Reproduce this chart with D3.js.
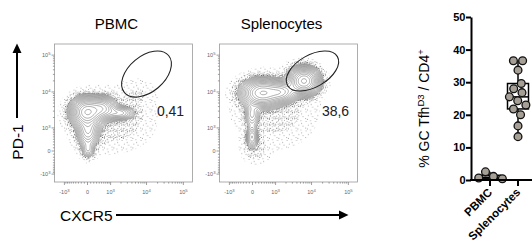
<!DOCTYPE html>
<html>
<head>
<meta charset="utf-8">
<title>GC Tfh - flow + scatter</title>
<script src="https://cdn.jsdelivr.net/npm/d3@7"></script>
<style>
  body { margin: 0; background: #fff; }
  svg { display: block; font-family: "Liberation Sans", Arial, sans-serif; }
  .box { fill: none; stroke: #999; stroke-width: 0.8; }
  .contour { fill: none; stroke: #707070; stroke-width: 0.55; }
  .gate { fill: none; stroke: #222; stroke-width: 1.1; }
  .ftick { stroke: #777; stroke-width: 0.7; }
  .flabel { fill: #666; font-size: 5.5px; }
</style>
</head>
<body>
<svg width="532" height="244"></svg>

<script type="text/javascript">
// ---- data ----
var groups = ["PBMC", "Splenocytes"];
var pbmcValues = [2.5, 1.1, 0.6, 0.4];
var splenoValues = [36.6, 36.6, 33.7, 29.6, 28.0, 26.8, 25.5, 24.3, 23.0, 21.8, 20.0, 16.6, 13.3];
var yTicks = [0, 10, 20, 30, 40, 50];

var flowTicks = [-1000, 0, 1000, 10000, 100000];
var flowTickBase = ["-10", "0", "10", "10", "10"];
var flowTickExp = ["3", "", "3", "4", "5"];
var flowMinor = [-900, -800, -700, -600, -500, -400, -300, -200, -100,
  100, 200, 300, 400, 500, 600, 700, 800, 900,
  2000, 3000, 4000, 5000, 6000, 7000, 8000, 9000,
  20000, 30000, 40000, 50000, 60000, 70000, 80000, 90000];

var flowTitles = ["PBMC", "Splenocytes"];
var gatePercents = ["0,41", "38,6"];

// populations: centre in fluorescence units (CXCR5, PD-1), spread in transformed units
var pbmcPops = [
  {cxcr5: -15,  pd1: 2840,  sx: 0.52, sy: 0.48, w: 1},
  {cxcr5: 565,  pd1: 3660,  sx: 0.44, sy: 0.38, w: 0.5},
  {cxcr5: 1870, pd1: 2660,  sx: 0.5,  sy: 0.24, w: 0.25},
  {cxcr5: 15,   pd1: 745,   sx: 0.38, sy: 0.5,  w: 0.35},
  {cxcr5: 15,   pd1: 31,    sx: 0.25, sy: 0.31, w: 0.15},
  {cxcr5: 960,  pd1: 1700,  sx: 1.56, sy: 1.13, w: 0.03},
  {cxcr5: 6650, pd1: 10000, sx: 0.7,  sy: 0.55, w: 0.012}
];
var splenoPops = [
  {cxcr5: 313,  pd1: 9400,  sx: 0.67, sy: 0.46, w: 1},
  {cxcr5: 1530, pd1: 10000, sx: 0.5,  sy: 0.36, w: 0.6},
  {cxcr5: 6260, pd1: 19900, sx: 0.5,  sy: 0.45, w: 1.3},
  {cxcr5: -15,  pd1: 2350,  sx: 0.28, sy: 0.44, w: 0.2},
  {cxcr5: -15,  pd1: 495,   sx: 0.22, sy: 0.38, w: 0.3},
  {cxcr5: 960,  pd1: 3220,  sx: 1.56, sy: 1.38, w: 0.03},
  {cxcr5: 80,   pd1: 31,    sx: 0.5,  sy: 0.5,  w: 0.03}
];
// gates: centre in fluorescence units, half axes in transformed units
var gates = [
  {cxcr5: 10000, pd1: 30700, a: 1.8, b: 1.12, angle: -40},
  {cxcr5: 10600, pd1: 37100, a: 1.8, b: 1.0,  angle: -30}
];

// ---- helpers ----
var svg = d3.select('svg');
var flowSize = 138;
var tr = function(v) { return Math.asinh(v / 500); };
var fx = d3.scaleLinear().domain([-33 / 16, 105 / 16]).range([0, flowSize]);
var fy = d3.scaleLinear().domain([-31 / 16, 107 / 16]).range([flowSize, 0]);

// stipple patterns for the outlying events
var defs = svg.append('defs');
var sparseDots = [[1, 1.5], [5.6, 0.8], [3.3, 4.9], [7.6, 6.3], [0.7, 7.9], [6.2, 3.6], [2.4, 8.8]];
var denseDots = [[0.6, 0.7], [3.1, 1.9], [1.5, 3.8], [4.4, 4.6], [4.9, 0.4], [0.2, 5.6], [2.8, 5.9]];
var packedDots = [[0.5, 0.6], [2.3, 1.4], [1.2, 2.9], [3.3, 3.2], [3.6, 0.3], [0.2, 4.1], [2.2, 4.4]];
function addPattern(id, size, dots, r) {
  var p = defs.append('pattern')
    .attr('id', id)
    .attr('patternUnits', 'userSpaceOnUse')
    .attr('width', size)
    .attr('height', size);
  p.selectAll('circle')
    .data(dots)
    .enter()
    .append('circle')
    .attr('cx', function(d) { return d[0]; })
    .attr('cy', function(d) { return d[1]; })
    .attr('r', r)
    .attr('fill', '#2a2a2a');
}
addPattern('sparse', 9.5, sparseDots, 0.4);
addPattern('dense', 6.2, denseDots, 0.42);
addPattern('packed', 4.6, packedDots, 0.45);

function drawFlow(left, top, pops, gate, pct, title) {
  var g = svg.append('g').attr('transform', 'translate(' + left + ',' + top + ')');

  var pts = pops.map(function(p) {
    return {cx: tr(p.cxcr5), cy: tr(p.pd1), sx: p.sx, sy: p.sy, w: p.w};
  });
  var grid = new Float64Array(flowSize * flowSize);
  for (var j = 0; j < flowSize; j++) {
    var ty = fy.invert(j + 0.5);
    for (var i = 0; i < flowSize; i++) {
      var tx = fx.invert(i + 0.5), s = 0;
      pts.forEach(function(p) {
        var dx = (tx - p.cx) / p.sx, dy = (ty - p.cy) / p.sy;
        s += p.w * Math.exp(-0.5 * (dx * dx + dy * dy));
      });
      grid[j * flowSize + i] = s;
    }
  }
  var max = d3.max(grid);
  var path = d3.geoPath();
  var low = max * 0.06;

  // outlying events as stipple, white inside the outer contour
  var fills = d3.contours().size([flowSize, flowSize])
    .thresholds([max * 0.0045, max * 0.014, max * 0.032, low])(grid);
  g.selectAll('path.fill')
    .data(fills)
    .enter()
    .append('path')
    .attr('class', 'fill')
    .attr('d', path)
    .attr('fill', function(d, i) {
      return ['url(#sparse)', 'url(#dense)', 'url(#packed)', '#fff'][i];
    });

  // contour lines, log spaced
  var levels = d3.range(15).map(function(k) {
    return low * Math.pow(0.95 / 0.06, k / 14);
  });
  var lines = d3.contours().size([flowSize, flowSize]).thresholds(levels)(grid);
  g.selectAll('path.contour')
    .data(lines)
    .enter()
    .append('path')
    .attr('class', 'contour')
    .attr('d', path);

  // frame
  g.append('rect').attr('class', 'box')
    .attr('width', flowSize).attr('height', flowSize);

  // ticks
  var tx0 = function(v) { return fx(tr(v)); };
  var ty0 = function(v) { return fy(tr(v)); };
  g.selectAll('line.xminor').data(flowMinor).enter().append('line')
    .attr('class', 'ftick')
    .attr('x1', tx0).attr('x2', tx0)
    .attr('y1', flowSize).attr('y2', flowSize + 1.6);
  g.selectAll('line.yminor').data(flowMinor).enter().append('line')
    .attr('class', 'ftick')
    .attr('y1', ty0).attr('y2', ty0)
    .attr('x1', 0).attr('x2', -1.6);
  g.selectAll('line.xmajor').data(flowTicks).enter().append('line')
    .attr('class', 'ftick')
    .attr('stroke-width', function(d) { return d === 0 ? 2.2 : 0.8; })
    .attr('x1', tx0).attr('x2', tx0)
    .attr('y1', flowSize).attr('y2', flowSize + 3);
  g.selectAll('line.ymajor').data(flowTicks).enter().append('line')
    .attr('class', 'ftick')
    .attr('stroke-width', function(d) { return d === 0 ? 2.2 : 0.8; })
    .attr('y1', ty0).attr('y2', ty0)
    .attr('x1', 0).attr('x2', -3);

  var xl = g.selectAll('text.xl').data(flowTicks).enter().append('text')
    .attr('class', 'flabel')
    .attr('text-anchor', 'middle')
    .attr('x', tx0)
    .attr('y', flowSize + 12);
  var yl = g.selectAll('text.yl').data(flowTicks).enter().append('text')
    .attr('class', 'flabel')
    .attr('text-anchor', 'end')
    .attr('x', -4)
    .attr('y', function(d) { return ty0(d) + 2; });
  [xl, yl].forEach(function(sel) {
    sel.append('tspan').text(function(d, i) { return flowTickBase[i]; });
    sel.append('tspan')
      .attr('dy', -2.2)
      .attr('font-size', '4.2px')
      .text(function(d, i) { return flowTickExp[i]; });
  });

  // gate
  var gcx = fx(tr(gate.cxcr5)), gcy = fy(tr(gate.pd1));
  g.append('ellipse').attr('class', 'gate')
    .attr('cx', gcx).attr('cy', gcy)
    .attr('rx', fx(gate.a) - fx(0))
    .attr('ry', fx(gate.b) - fx(0))
    .attr('transform', 'rotate(' + gate.angle + ',' + gcx + ',' + gcy + ')');

  g.append('text')
    .attr('x', 116).attr('y', 72)
    .attr('text-anchor', 'middle')
    .attr('font-size', '14px')
    .attr('fill', '#222')
    .text(pct);

  g.append('text')
    .attr('x', 62).attr('y', -15)
    .attr('text-anchor', 'middle')
    .attr('font-size', '15px')
    .text(title);
}

drawFlow(54.5, 44, pbmcPops, gates[0], gatePercents[0], flowTitles[0]);
drawFlow(219.5, 44, splenoPops, gates[1], gatePercents[1], flowTitles[1]);

// axis arrows
svg.append('line').attr('x1', 17).attr('x2', 17).attr('y1', 118).attr('y2', 51)
  .attr('stroke', '#000').attr('stroke-width', 2);
svg.append('path').attr('d', 'M12.5,53 L17,43.5 L21.5,53 Z').attr('fill', '#000');
svg.append('text')
  .attr('transform', 'translate(23,142) rotate(-90)')
  .attr('text-anchor', 'middle')
  .attr('font-size', '15.5px')
  .text('PD-1');

svg.append('line').attr('x1', 116).attr('x2', 341).attr('y1', 215).attr('y2', 215)
  .attr('stroke', '#000').attr('stroke-width', 2);
svg.append('path').attr('d', 'M339,210.5 L348.5,215 L339,219.5 Z').attr('fill', '#000');
svg.append('text')
  .attr('x', 60).attr('y', 221)
  .attr('font-size', '15.5px')
  .text('CXCR5');

// ---- scatter / box plot ----
var yBar = d3.scaleLinear().domain([0, 50]).range([180, 17]);
var xBar = d3.scalePoint().domain(groups).range([490, 518]);
var series = [pbmcValues, splenoValues];

var bar = svg.append('g');

series.forEach(function(vals, gi) {
  var sorted = vals.slice().sort(d3.ascending);
  var cx = xBar(groups[gi]);
  var q1 = d3.quantile(sorted, 0.25), med = d3.quantile(sorted, 0.5), q3 = d3.quantile(sorted, 0.75);
  bar.append('line')
    .attr('x1', cx).attr('x2', cx)
    .attr('y1', yBar(d3.min(sorted))).attr('y2', yBar(d3.max(sorted)))
    .attr('stroke', '#000').attr('stroke-width', 1.5);
  bar.append('rect')
    .attr('x', cx - 10.5).attr('width', 21)
    .attr('y', yBar(q3)).attr('height', yBar(q1) - yBar(q3))
    .attr('fill', '#fff').attr('stroke', '#000').attr('stroke-width', 1.5);
  bar.append('line')
    .attr('x1', cx - 10.5).attr('x2', cx + 10.5)
    .attr('y1', yBar(med)).attr('y2', yBar(med))
    .attr('stroke', '#000').attr('stroke-width', 1.5);

  var nodes = vals.map(function(v) {
    return {v: v, x: cx, y: yBar(v), fy: yBar(v)};
  });
  var sim = d3.forceSimulation(nodes)
    .force('x', d3.forceX(cx).strength(0.1))
    .force('collide', d3.forceCollide(4.6))
    .stop();
  for (var k = 0; k < 200; k++) sim.tick();

  bar.selectAll('circle.g' + gi)
    .data(nodes)
    .enter()
    .append('circle')
    .attr('class', 'g' + gi)
    .attr('cx', function(d) { return d.x; })
    .attr('cy', function(d) { return d.y; })
    .attr('r', 3.9)
    .attr('fill', '#a59f96')
    .attr('stroke', '#111')
    .attr('stroke-width', 1.3);
});

// axes
var yAxis = svg.append('g')
  .attr('transform', 'translate(471,0)')
  .call(d3.axisLeft(yBar).tickValues(yTicks).tickSize(5).tickSizeOuter(0));
yAxis.select('.domain').attr('stroke-width', 2);
yAxis.selectAll('.tick line').attr('stroke-width', 2);
yAxis.selectAll('.tick text')
  .attr('font-family', '"Liberation Sans", Arial, sans-serif')
  .attr('font-size', '11px')
  .attr('font-weight', 'bold')
  .attr('fill', '#000')
  .attr('x', -5.5);

svg.append('line').attr('x1', 470).attr('x2', 532).attr('y1', 180).attr('y2', 180)
  .attr('stroke', '#000').attr('stroke-width', 2);
svg.selectAll('line.xtick').data(groups).enter().append('line')
  .attr('x1', function(d) { return xBar(d); })
  .attr('x2', function(d) { return xBar(d); })
  .attr('y1', 180).attr('y2', 186)
  .attr('stroke', '#000').attr('stroke-width', 2);
svg.selectAll('text.xcat').data(groups).enter().append('text')
  .attr('text-anchor', 'end')
  .attr('font-size', '11.5px')
  .attr('font-weight', 'bold')
  .attr('transform', function(d) { return 'translate(' + (xBar(d) + 3) + ',193) rotate(-45)'; })
  .text(function(d) { return d; });

var yLab = svg.append('text')
  .attr('transform', 'translate(429,108.5) rotate(-90)')
  .attr('text-anchor', 'middle')
  .attr('font-size', '14px');
yLab.append('tspan').text('%  GC Tfh');
yLab.append('tspan').attr('dy', -5).attr('font-size', '9.5px').text('D3');
yLab.append('tspan').attr('dy', 5).text(' / CD4');
yLab.append('tspan').attr('dy', -5).attr('font-size', '9.5px').text('+');
</script>
</body>
</html>
